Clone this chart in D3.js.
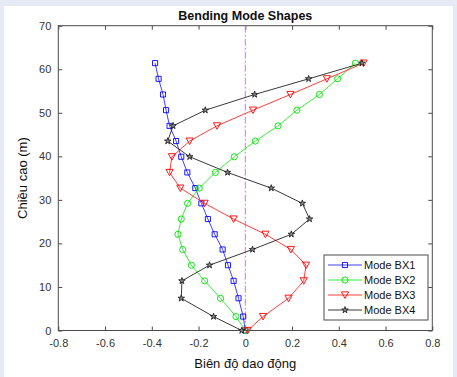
<!DOCTYPE html>
<html><head><meta charset="utf-8">
<script src="https://cdn.jsdelivr.net/npm/d3@7"></script>
<style>
html,body{margin:0;padding:0;background:#e5eaf5;}
svg{display:block;}
text{font-family:"Liberation Sans",Arial,sans-serif;}
</style></head>
<body>
<svg id="c" width="457" height="377"></svg>
<script>
const heights = [0, 3.2, 7.4, 11.4, 15.0, 18.6, 22.1, 25.6, 29.2, 32.7, 36.3, 39.9, 43.5, 47.0, 50.6, 54.2, 57.8, 61.4];
const bx1 = [0, -0.009, -0.029, -0.050, -0.074, -0.097, -0.131, -0.160, -0.188, -0.214, -0.248, -0.274, -0.296, -0.324, -0.339, -0.352, -0.371, -0.386];
const bx2 = [0, -0.040, -0.106, -0.174, -0.231, -0.268, -0.288, -0.274, -0.247, -0.197, -0.128, -0.047, 0.043, 0.140, 0.221, 0.317, 0.395, 0.471];
const bx3 = [0.01, 0.076, 0.185, 0.250, 0.260, 0.195, 0.086, -0.050, -0.174, -0.278, -0.324, -0.314, -0.238, -0.121, 0.033, 0.193, 0.349, 0.506];
const bx4 = [-0.015, -0.136, -0.274, -0.271, -0.153, 0.031, 0.197, 0.275, 0.244, 0.111, -0.076, -0.238, -0.332, -0.309, -0.171, 0.040, 0.271, 0.499];
const seriesNames = ["Mode BX1", "Mode BX2", "Mode BX3", "Mode BX4"];
const xTicks = [-0.8, -0.6, -0.4, -0.2, 0, 0.2, 0.4, 0.6, 0.8];
const yTicks = [0, 10, 20, 30, 40, 50, 60, 70];
const title = "Bending Mode Shapes";
const xLabel = "Biên độ dao động";
const yLabel = "Chiều cao (m)";

const svg = d3.select("#c");
svg.append("rect").attr("x",4).attr("y",6).attr("width",449).attr("height",371).attr("fill","#fff");

const L=58.3, R=432.3, T=25.7, B=330.5;
const x = d3.scaleLinear().domain([-0.8,0.8]).range([L,R]);
const y = d3.scaleLinear().domain([0,70]).range([B,T]);
const axisColor = "#4a4a4a";
const fmt = d => (Math.round(d*10)/10).toString();

function styleAxis(g, hideText){
  g.select(".domain").remove();
  g.selectAll("line").attr("stroke",axisColor);
  g.selectAll("text").attr("fill","#333").style("font-size","11px").attr("font-family","Liberation Sans, Arial, sans-serif");
  if(hideText) g.selectAll("text").remove();
}
svg.append("g").attr("transform",`translate(0,${B})`)
  .call(d3.axisBottom(x).tickValues(xTicks).tickFormat(fmt).tickSizeInner(-4).tickSizeOuter(0).tickPadding(9))
  .call(g=>styleAxis(g,false));
svg.append("g").attr("transform",`translate(0,${T})`)
  .call(d3.axisTop(x).tickValues(xTicks).tickSizeInner(-4).tickSizeOuter(0))
  .call(g=>styleAxis(g,true));
svg.append("g").attr("transform",`translate(${L},0)`)
  .call(d3.axisLeft(y).tickValues(yTicks).tickFormat(fmt).tickSizeInner(-4).tickSizeOuter(0).tickPadding(7))
  .call(g=>styleAxis(g,false));
svg.append("g").attr("transform",`translate(${R},0)`)
  .call(d3.axisRight(y).tickValues(yTicks).tickSizeInner(-4).tickSizeOuter(0))
  .call(g=>styleAxis(g,true));
svg.append("rect").attr("x",L).attr("y",T).attr("width",R-L).attr("height",B-T)
  .attr("fill","none").attr("stroke",axisColor).attr("stroke-width",1);

// zero reference line
svg.append("line").attr("x1",x(0)).attr("x2",x(0)).attr("y1",y(70)).attr("y2",y(0))
  .attr("stroke","#e46de4").attr("stroke-width",1).attr("stroke-dasharray","7,2,2,2");

const triDown = "M-3.6,-3.1L3.6,-3.1L0,3.4Z";
const markers = [
  d3.symbol().type(d3.symbolSquare).size(26)(),
  d3.symbol().type(d3.symbolCircle).size(30)(),
  triDown,
  d3.symbol().type(d3.symbolStar).size(13)()
];
const colors = ["#0000ff","#00e000","#ff0000","#222"];
const lineColors = ["#2a2aff","#22ee22","#ff2a2a","#222"];
const data = [bx1,bx2,bx3,bx4];
const line = d3.line().x(d=>x(d[0])).y(d=>y(d[1]));

data.forEach((vals,i)=>{
  const pts = vals.map((v,j)=>[v,heights[j]]);
  svg.append("path").datum(pts).attr("d",line).attr("fill","none")
    .attr("stroke",lineColors[i]).attr("stroke-width",0.9);
  svg.append("g").selectAll("path").data(pts).join("path")
    .attr("d",markers[i]).attr("transform",d=>`translate(${x(d[0])},${y(d[1])})`)
    .attr("fill",i===3?"#888":"none").attr("stroke",colors[i]).attr("stroke-width",0.9);
});

// legend
const lg = svg.append("g");
lg.append("rect").attr("x",324).attr("y",255).attr("width",104).attr("height",65)
  .attr("fill","#fff").attr("stroke",axisColor).attr("stroke-width",1);
seriesNames.forEach((n,i)=>{
  const yy = 265 + i*15;
  lg.append("line").attr("x1",328).attr("x2",362).attr("y1",yy).attr("y2",yy)
    .attr("stroke",lineColors[i]).attr("stroke-width",0.9);
  lg.append("path").attr("d",markers[i]).attr("transform",`translate(345,${yy})`)
    .attr("fill",i===3?"#888":"none").attr("stroke",colors[i]).attr("stroke-width",0.9);
  lg.append("text").attr("x",364).attr("y",yy+4).text(n).style("font-size","11px").attr("fill","#111");
});

svg.append("text").attr("x",(L+R)/2).attr("y",20).attr("text-anchor","middle")
  .style("font-size","12.5px").style("font-weight","bold").attr("fill","#111").text(title);
svg.append("text").attr("x",(L+R)/2).attr("y",368).attr("text-anchor","middle")
  .style("font-size","13px").attr("fill","#111").text(xLabel);
svg.append("text").attr("transform",`translate(27,${(T+B)/2}) rotate(-90)`).attr("text-anchor","middle")
  .style("font-size","13px").attr("fill","#111").text(yLabel);
</script>
</body></html>
